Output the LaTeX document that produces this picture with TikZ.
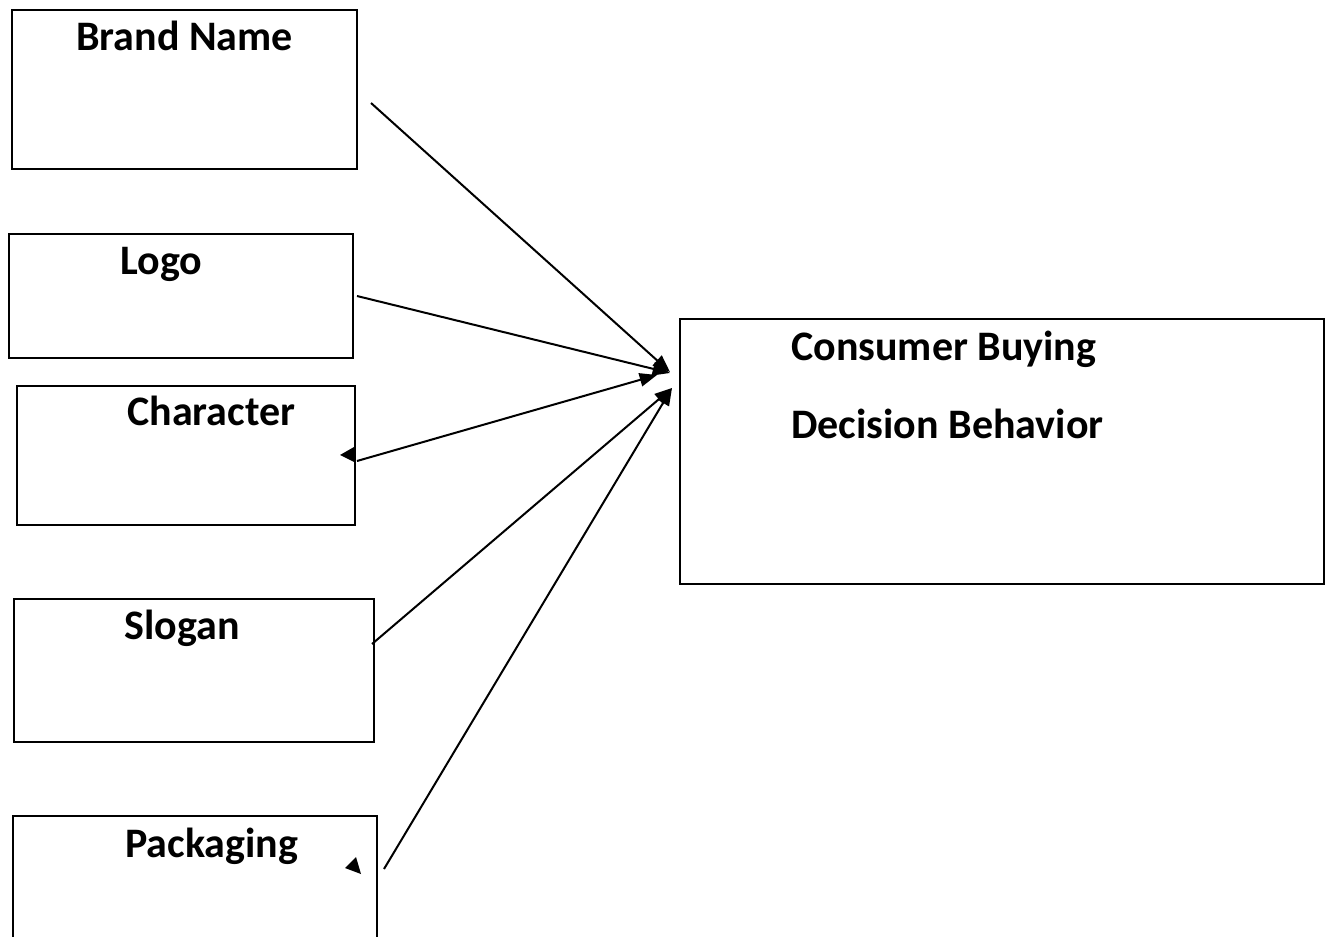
\documentclass[tikz,border=0pt]{standalone}
\usepackage{fontspec}
\setmainfont{Carlito}
\usetikzlibrary{arrows.meta}
\begin{document}
\begin{tikzpicture}[x=0.75pt,y=-0.75pt,
  box/.style={draw, line width=1.5pt, inner sep=0pt, outer sep=0pt, anchor=north west},
  lbl/.style={anchor=base west, inner sep=0pt, font=\fontsize{31.5}{38}\selectfont\bfseries},
  conn/.style={line width=1.5pt, -{Triangle[length=13pt,width=10pt]}},
  stray/.style={fill=black}]
\useasboundingbox (0,0) rectangle (1327,937);
\clip (0,0) rectangle (1327,937);
% boxes
\node[box, minimum width=258.75pt, minimum height=119.25pt] (brand) at (12,10) {};
\node[box, minimum width=258pt, minimum height=93pt] (logo) at (9,234) {};
\node[box, minimum width=253.5pt, minimum height=104.25pt] (char) at (17,386) {};
\node[box, minimum width=270pt, minimum height=107.25pt] (slogan) at (14,599) {};
\node[box, minimum width=273pt, minimum height=105pt] (pack) at (13,816) {};
\node[box, minimum width=483pt, minimum height=198.75pt] (cons) at (680,319) {};
% labels
\node[lbl] (tbrand) at (76,51) {Brand Name};
\node[lbl] (tlogo) at (120,275) {Logo};
\node[lbl] (tchar) at (127,426) {Character};
\node[lbl] (tslogan) at (124,639) {Slogan};
\node[lbl] (tpack) at (125,857) {Packaging};
\node[lbl] (tcons1) at (791,361) {Consumer Buying};
\node[lbl] (tcons2) at (791,439) {Decision Behavior};
% connector ends
\coordinate (s1) at (371,103);
\coordinate (s2) at (357,296);
\coordinate (s3) at (357,461);
\coordinate (s4) at (372,644);
\coordinate (s5) at (384,869);
\coordinate (e1) at (670,372);
\coordinate (e2) at (670,373);
\coordinate (e3) at (657,375);
\coordinate (e4) at (672,388);
\coordinate (e5) at (672,388);
\draw[conn] (s1) -- (e1);
\draw[conn] (s2) -- (e2);
\draw[conn] (s3) -- (e3);
\draw[conn] (s4) -- (e4);
\draw[conn] (s5) -- (e5);
% stray arrowheads
\fill[stray] (340,455) -- (354,447) -- (354,462) -- cycle;
\fill[stray] (345,868) -- (356,857) -- (361,874) -- cycle;
\end{tikzpicture}
\end{document}
